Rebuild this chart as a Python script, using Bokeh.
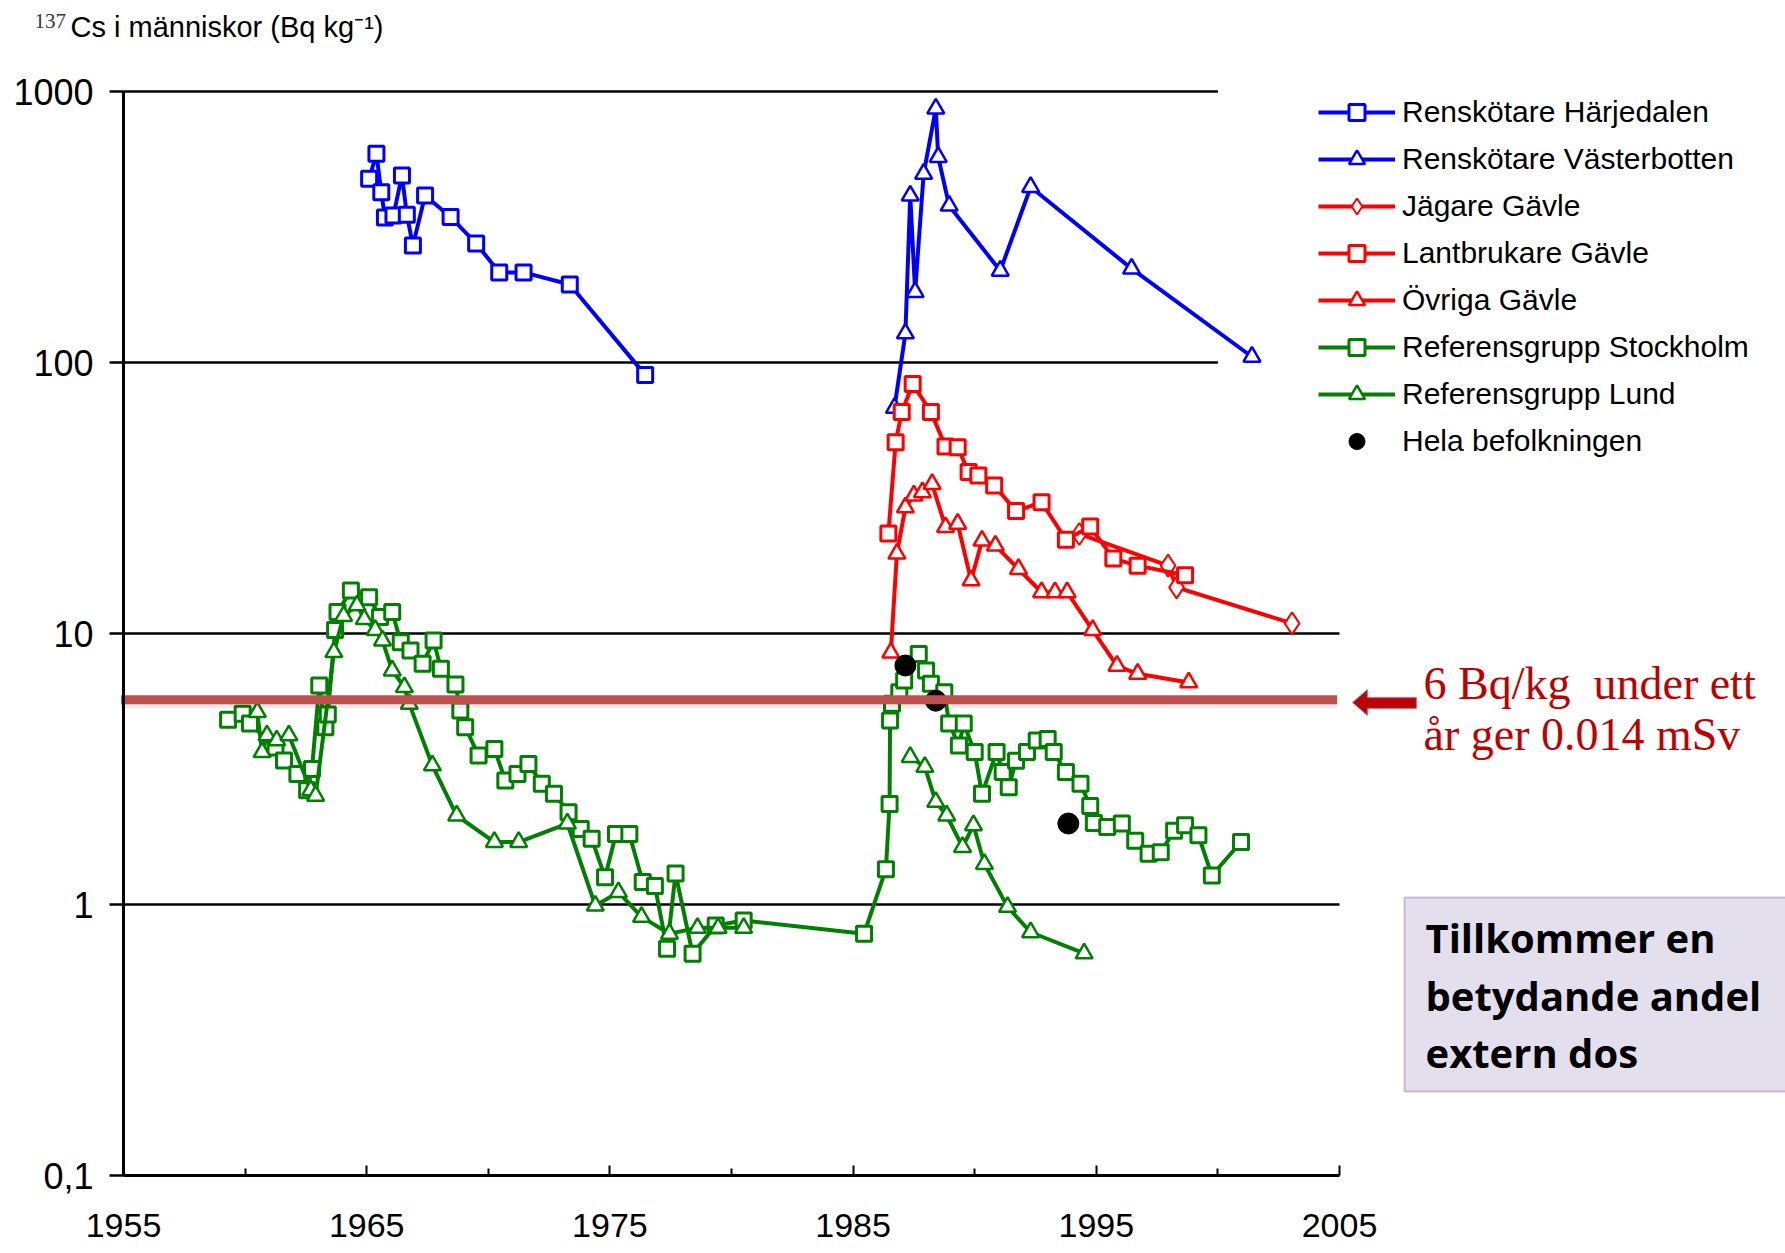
from bokeh.plotting import figure
from bokeh.models import (Range1d, FixedTicker, Legend, LegendItem, Label,
                          BoxAnnotation, PolyAnnotation)
from bokeh.embed import file_html
from bokeh.resources import INLINE

NAN = float("nan")

# ---------------- data (year, Bq/kg) ----------------
harjedalen = [(1965.1, 476), (1965.4, 589), (1965.6, 425), (1965.75, 343), (1966.1, 349),
              (1966.45, 490), (1966.65, 351), (1966.9, 270), (1967.4, 413), (1968.45, 344),
              (1969.5, 275), (1970.45, 215), (1971.45, 215), (1973.35, 194), (1976.45, 90)]

vasterbotten = [(1986.7, 68), (1987.15, 128), (1987.35, 413), (1987.55, 182), (1987.9, 497),
                (1988.4, 865), (1988.5, 573), (1988.95, 379), (1991.05, 218), (1992.3, 444),
                (1996.45, 222), (2001.4, 105)]

jagare = [(1994.3, 23.3), (1997.95, 17.8), (1998.3, 14.8), (2003.05, 10.9)]

lantbrukare = [(1986.45, 23.4), (1986.75, 50.8), (1987.0, 65.6), (1987.45, 83.3), (1988.2, 65.6),
               (1988.8, 49.0), (1989.3, 48.7), (1989.75, 39.4), (1990.15, 38.3), (1990.8, 35.2),
               (1991.7, 28.3), (1992.75, 30.5), (1993.75, 22.2), (1994.75, 24.8), (1995.7, 18.9),
               (1996.7, 17.8), (1998.65, 16.4)]

ovriga = [(1986.55, 8.5), (1986.8, 19.7), (1987.15, 29.2), (1987.5, 32.3), (1987.85, 33.2),
          (1988.25, 35.6), (1988.8, 24.7), (1989.3, 25.4), (1989.85, 15.7), (1990.3, 22.0),
          (1990.85, 21.1), (1991.8, 17.3), (1992.75, 14.2), (1993.3, 14.2), (1993.8, 14.2),
          (1994.85, 10.3), (1995.85, 7.6), (1996.7, 7.1), (1998.8, 6.6)]

stockholm = [(1959.3, 4.81), (1959.9, 5.06), (1960.2, 4.65), (1961.25, 3.80), (1961.6, 3.40),
             (1962.15, 3.03), (1962.55, 2.64), (1962.75, 3.16), (1963.05, 6.43), (1963.3, 4.51),
             (1963.4, 5.02), (1963.7, 10.3), (1963.8, 12.0), (1964.35, 14.4), (1965.1, 13.6),
             (1965.55, 11.5), (1966.05, 12.0), (1966.4, 9.29), (1966.8, 8.65), (1967.3, 7.73),
             (1967.75, 9.42), (1968.05, 7.41), (1968.65, 6.49), (1968.85, 5.20), (1969.05, 4.51),
             (1969.6, 3.55), (1970.25, 3.75), (1970.7, 2.87), (1971.2, 3.03), (1971.65, 3.30),
             (1972.2, 2.79), (1972.7, 2.56), (1973.3, 2.19), (1973.8, 1.90), (1974.25, 1.75),
             (1974.8, 1.26), (1975.25, 1.82), (1975.8, 1.82), (1976.35, 1.21), (1976.85, 1.17),
             (1977.35, 0.687), (1977.7, 1.30), (1978.4, 0.658), (1979.35, 0.836), (1980.5, 0.873),
             (1985.45, 0.780), (1986.35, 1.35), (1986.5, 2.35), (1986.52, 4.78), (1986.6, 5.50),
             (1986.9, 6.07), (1987.1, 6.71), (1987.7, 8.41), (1988.0, 7.30), (1988.2, 6.52),
             (1988.75, 6.07), (1988.95, 4.65), (1989.35, 3.86), (1989.55, 4.65), (1990.0, 3.65),
             (1990.3, 2.56), (1990.9, 3.65), (1991.15, 3.08), (1991.4, 2.71), (1991.7, 3.39),
             (1992.15, 3.65), (1992.55, 4.03), (1993.0, 4.08), (1993.25, 3.65), (1993.75, 3.08),
             (1994.35, 2.79), (1994.75, 2.31), (1994.9, 2.00), (1995.45, 1.93), (1996.05, 1.99),
             (1996.6, 1.72), (1997.15, 1.54), (1997.65, 1.56), (1998.2, 1.87), (1998.65, 1.96),
             (1999.2, 1.80), (1999.75, 1.28), (2000.95, 1.70)]

lund = [(1960.5, 5.13), (1960.7, 3.65), (1960.9, 4.21), (1961.3, 4.03), (1961.8, 4.21),
        (1962.7, 2.64), (1962.9, 2.52), (1963.65, 8.53), (1964.05, 11.6), (1964.6, 12.7),
        (1964.9, 11.3), (1965.35, 10.3), (1965.65, 9.42), (1966.05, 7.30), (1966.55, 6.34),
        (1966.75, 5.50), (1967.7, 3.26), (1968.7, 2.13), (1970.25, 1.70), (1971.25, 1.70),
        (1973.25, 1.99), (1974.4, 0.99), (1975.35, 1.11), (1976.3, 0.90), (1977.45, 0.78),
        (1978.6, 0.82), (1979.45, 0.82), (1980.5, 0.82), (NAN, NAN),
        (1987.35, 3.50), (1987.95, 3.22), (1988.4, 2.39), (1988.85, 2.13), (1989.5, 1.63),
        (1989.95, 1.96), (1990.4, 1.41), (1991.35, 0.98), (1992.3, 0.79), (1994.5, 0.66)]

hela = [(1987.15, 7.62), (1988.4, 5.65), (1993.85, 1.99)]

series_labels = ["Renskötare Härjedalen", "Renskötare Västerbotten", "Jägare Gävle",
                 "Lantbrukare Gävle", "Övriga Gävle", "Referensgrupp Stockholm",
                 "Referensgrupp Lund", "Hela befolkningen"]

x_ticks = [1955, 1965, 1975, 1985, 1995, 2005]
x_minor_ticks = [1960, 1970, 1980, 1990, 2000]
x_tick_labels = ["1955", "1965", "1975", "1985", "1995", "2005"]
y_ticks = [0.1, 1, 10, 100, 1000]
y_tick_labels = ["0,1", "1", "10", "100", "1000"]
grid_values = [1000, 100, 10, 1]
grid_ends = [2000, 2000, 2005, 2005]

threshold = 5.7
threshold_x = [1954.9, 2004.9]

title_text = "Cs i människor (Bq kg\u207b\u00b9)"
title_super = "137"
note_lines = ["6 Bq/kg\u00a0 under ett", "år ger 0.014 mSv"]
box_lines = ["Tillkommer en", "betydande andel", "extern dos"]


def unzip(pairs):
    return [a for a, _ in pairs], [b for _, b in pairs]


# ---------------- figure geometry ----------------
W, H = 1785, 1253
AXIS_X = 123              # px where 1955 sits
PX_PER_YEAR = 24.32
Y_TOP_PX, PX_PER_DECADE = 91, 271   # 1000 at y=91, 271 px per decade

x_start = 1955 - AXIS_X / PX_PER_YEAR
x_end = 1955 + (W - AXIS_X) / PX_PER_YEAR
y_top = 10 ** (3 + Y_TOP_PX / PX_PER_DECADE)
y_bot = 10 ** (3 - (H - Y_TOP_PX) / PX_PER_DECADE)

p = figure(width=W, height=H, output_backend="svg", toolbar_location=None,
           x_range=Range1d(x_start, x_end), y_range=Range1d(y_bot, y_top), y_axis_type="log",
           min_border=0, min_border_left=0, min_border_right=0,
           min_border_top=0, min_border_bottom=0,
           background_fill_color="white", border_fill_color="white")
p.outline_line_color = None
p.grid.visible = False


# screen helpers (picture px -> frame-relative screen units)
def sx(X):
    return X


def sy(Y):
    return H - Y


def base(Y, size):
    # baseline correction for labels
    return sy(Y - 0.37 * size)


# axes
xa = p.xaxis[0]
xa.fixed_location = 0.1
xa.bounds = (1955, 2005)
xa.ticker = FixedTicker(ticks=x_ticks, minor_ticks=x_minor_ticks)
xa.major_label_overrides = {t: l for t, l in zip(x_ticks, x_tick_labels)}
xa.axis_line_width = 3
xa.axis_line_color = "black"
xa.major_tick_in = 10
xa.major_tick_out = 0
xa.minor_tick_in = 7
xa.minor_tick_out = 0
xa.major_tick_line_width = 2
xa.minor_tick_line_width = 2
xa.major_tick_line_color = "black"
xa.minor_tick_line_color = "black"
xa.major_label_text_font = "Liberation Sans"
xa.major_label_text_font_size = "34px"
xa.major_label_text_color = "black"
xa.major_label_standoff = 38

ya = p.yaxis[0]
ya.fixed_location = 1955
ya.bounds = (0.1, 1000)
ya.ticker = FixedTicker(ticks=y_ticks, minor_ticks=[])
ya.major_label_overrides = {t: l for t, l in zip(y_ticks, y_tick_labels)}
ya.axis_line_width = 3
ya.axis_line_color = "black"
ya.major_tick_in = 0
ya.major_tick_out = 14
ya.major_tick_line_width = 2.5
ya.major_tick_line_color = "black"
ya.major_label_standoff = 16
ya.major_label_text_font = "Liberation Sans"
ya.major_label_text_font_size = "36px"
ya.major_label_text_color = "black"

# grid lines (upper ones stop where the legend box began)
p.segment(x0=[x_ticks[0]] * len(grid_values), y0=grid_values, x1=grid_ends, y1=grid_values,
          line_color="black", line_width=2.5)

# ---------------- series ----------------
items = []


def add_series(pairs, color, marker, size, label, lw=3):
    xs, ys = unzip(pairs)
    rl = p.line(xs, ys, line_color=color, line_width=4)
    rs = p.scatter(xs, ys, marker=marker, size=size, line_color=color, fill_color="white",
                   line_width=lw)
    items.append(LegendItem(label=label, renderers=[rl, rs]))


add_series(harjedalen, "#0000FF", "square", 15, series_labels[0])
add_series(vasterbotten, "#0000FF", "triangle", 17, series_labels[1], lw=2.5)
add_series(jagare, "#FF0000", "diamond", 22, series_labels[2], lw=2)
add_series(lantbrukare, "#FF0000", "square", 15, series_labels[3])
add_series(ovriga, "#FF0000", "triangle", 17, series_labels[4], lw=2.5)
add_series(stockholm, "#008000", "square", 15, series_labels[5])
add_series(lund, "#008000", "triangle", 17, series_labels[6], lw=2.5)

hx, hy = unzip(hela)
rh = p.scatter(hx, hy, marker="circle", size=21, fill_color="black", line_color="black")
items.append(LegendItem(label=series_labels[7], renderers=[rh]))

# threshold line (overlay)
p.line(threshold_x, [threshold * 0.965] * 2, line_color="black", line_alpha=0.08, line_width=9)
p.line(threshold_x, [threshold] * 2, line_color="#C0504D", line_width=9)

legend = Legend(items=items, location=(sx(1318), sy(460.6)), glyph_width=77, glyph_height=40,
                label_height=40, spacing=7, padding=0, margin=0, label_standoff=7,
                label_text_font="Liberation Sans", label_text_font_size="30px",
                label_text_color="black", background_fill_alpha=0, border_line_color=None)
p.add_layout(legend)

# ---------------- annotations ----------------
ax = [1352, 1367, 1367, 1416, 1416, 1367, 1367]
ay = [702, 689, 697, 697, 708, 708, 715]
p.add_layout(PolyAnnotation(xs=[sx(v) for v in ax], ys=[sy(v) for v in ay],
                            xs_units="screen", ys_units="screen", fill_color="#C00000",
                            fill_alpha=1, line_color="#4F81BD", line_width=2))

for i, t in enumerate(note_lines):
    p.add_layout(Label(x=sx(1423), y=base(700 + 51 * i, 46), x_units="screen", y_units="screen",
                       text=t, text_font="Liberation Serif", text_font_size="46px",
                       text_color="#C00000", text_baseline="alphabetic"))

p.add_layout(BoxAnnotation(left=sx(1404), right=sx(1840), top=sy(897), bottom=sy(1091),
                           left_units="screen", right_units="screen", top_units="screen",
                           bottom_units="screen", fill_color="#E4DFEC", fill_alpha=1,
                           line_color="#7030A0", line_width=2))
for i, t in enumerate(box_lines):
    p.add_layout(Label(x=sx(1425), y=base(952 + 57.5 * i, 40), x_units="screen", y_units="screen",
                       text=t, text_font="Open Sans", text_font_style="bold",
                       text_font_size="40px", text_color="black", text_baseline="alphabetic"))

# title
p.add_layout(Label(x=sx(34), y=base(28, 21), x_units="screen", y_units="screen", text=title_super,
                   text_font="Liberation Serif", text_font_size="21px", text_color="#3A3050",
                   text_baseline="alphabetic"))
p.add_layout(Label(x=sx(70), y=base(37, 29), x_units="screen", y_units="screen", text=title_text,
                   text_font="Liberation Sans", text_font_size="29px", text_color="black",
                   text_baseline="alphabetic"))

open("out.html", "w").write(file_html(p, INLINE))
